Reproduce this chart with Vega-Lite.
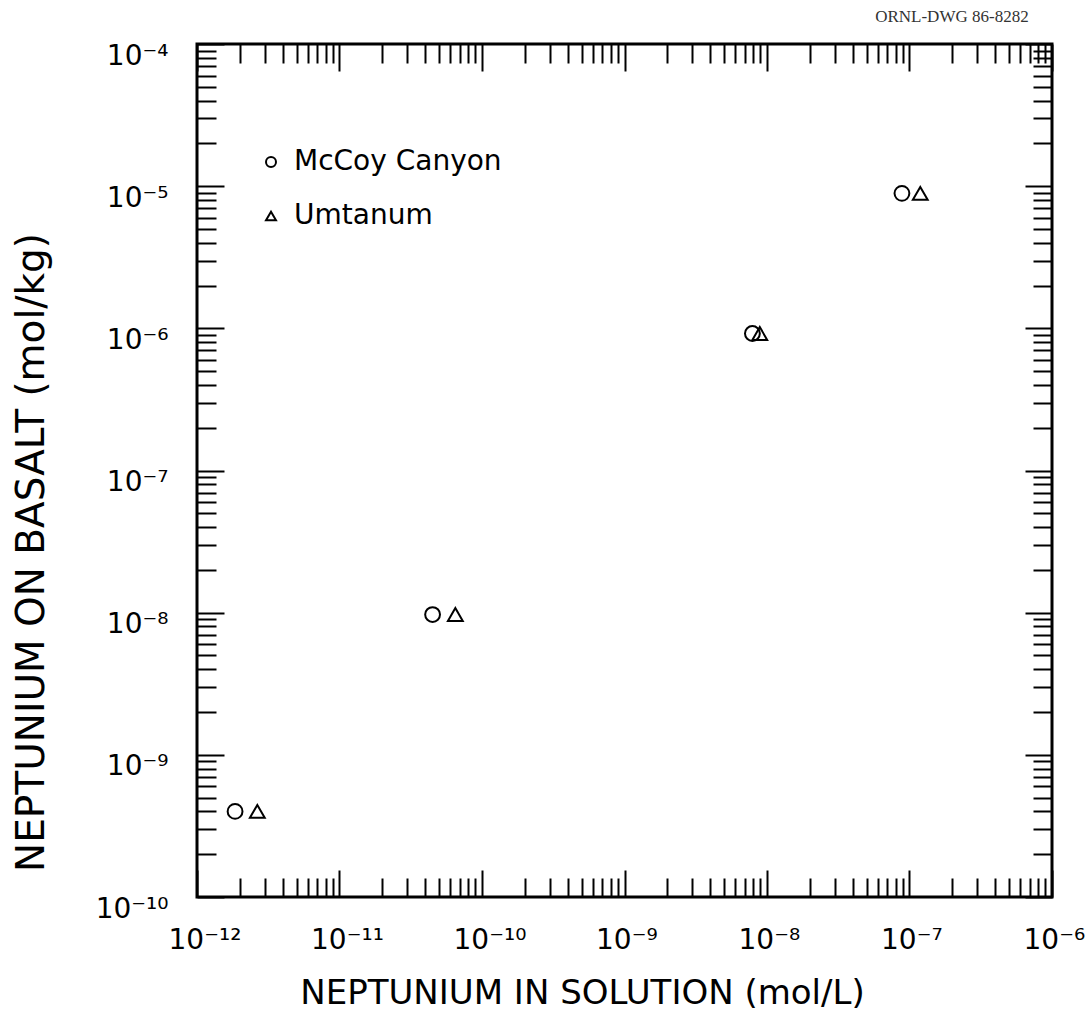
{
  "$schema": "https://vega.github.io/schema/vega-lite/v6.json",
  "width": 855,
  "height": 853,
  "autosize": {"type": "none"},
  "padding": {"left": 197, "top": 44, "right": 34, "bottom": 122},
  "background": "white",
  "title": {"text": "ORNL-DWG 86-8282", "anchor": "end", "font": "Liberation Serif", "fontSize": 17, "fontWeight": "normal", "color": "#333", "offset": 16, "dx": -56},
  "config": {
    "view": {"stroke": "black", "strokeWidth": 3},
    "axis": {
      "domain": false,
      "grid": false,
      "tickColor": "black",
      "tickWidth": 2,
      "labelColor": "black",
      "labelFont": "DejaVu Sans",
      "labelFontSize": 28,
      "titleFont": "DejaVu Sans",
      "titleFontWeight": "normal",
      "titleColor": "black",
      "labelOverlap": false,
      "labelFlush": false,
      "labelBound": false
    },
    "legend": {"labelFont": "DejaVu Sans", "labelFontSize": 28, "labelColor": "black", "labelLimit": 0}
  },
  "data": {"values": [
    {"sol": 1.85e-12, "basalt": 4.0e-10, "rock": "McCoy Canyon"},
    {"sol": 4.5e-11, "basalt": 9.7e-9, "rock": "McCoy Canyon"},
    {"sol": 7.9e-9, "basalt": 9.2e-7, "rock": "McCoy Canyon"},
    {"sol": 8.85e-8, "basalt": 8.9e-6, "rock": "McCoy Canyon"},
    {"sol": 2.65e-12, "basalt": 4.0e-10, "rock": "Umtanum"},
    {"sol": 6.5e-11, "basalt": 9.7e-9, "rock": "Umtanum"},
    {"sol": 8.9e-9, "basalt": 9.2e-7, "rock": "Umtanum"},
    {"sol": 1.19e-7, "basalt": 8.9e-6, "rock": "Umtanum"}
  ]},
  "layer": [
    {
      "mark": {"type": "point", "filled": false, "strokeWidth": 2, "color": "black", "opacity": 1, "size": 220},
      "encoding": {
        "x": {"field": "sol", "type": "quantitative",
          "scale": {"type": "log", "domain": [1e-12, 1e-6], "nice": false, "zero": false},
          "axis": {"orient": "bottom", "title": "NEPTUNIUM IN SOLUTION (mol/L)", "titleFontSize": 34, "titlePadding": 14, "titleX": 385,
            "values": [1e-12,2e-12,3e-12,4e-12,5e-12,6e-12,7e-12,8e-12,9e-12,1e-11,2e-11,3e-11,4e-11,5e-11,6e-11,7e-11,8e-11,9e-11,1e-10,2e-10,3e-10,4e-10,5e-10,6e-10,7e-10,8e-10,9e-10,1e-9,2e-9,3e-9,4e-9,5e-9,6e-9,7e-9,8e-9,9e-9,1e-8,2e-8,3e-8,4e-8,5e-8,6e-8,7e-8,8e-8,9e-8,1e-7,2e-7,3e-7,4e-7,5e-7,6e-7,7e-7,8e-7,9e-7,1e-6],
            "tickSize": {"condition": {"test": "abs(log(datum.value)/LN10 - round(log(datum.value)/LN10)) < 0.001", "value": -27}, "value": -19},
            "labelAlign": "left", "labelOffset": -29, "labelBaseline": "alphabetic", "labelPadding": 78,
            "labelExpr": "abs(log(datum.value)/LN10 - round(log(datum.value)/LN10)) < 0.001 ? '10⁻' + (-round(log(datum.value)/LN10) >= 10 ? substring('⁰¹²³⁴⁵⁶⁷⁸⁹', floor(-round(log(datum.value)/LN10)/10), floor(-round(log(datum.value)/LN10)/10)+1) : '') + substring('⁰¹²³⁴⁵⁶⁷⁸⁹', (-round(log(datum.value)/LN10))%10, (-round(log(datum.value)/LN10))%10+1) : ''"}},
        "y": {"field": "basalt", "type": "quantitative",
          "scale": {"type": "log", "domain": [1e-10, 1e-4], "nice": false, "zero": false},
          "axis": {"orient": "left", "title": "NEPTUNIUM ON BASALT (mol/kg)", "titleFontSize": 39, "titlePadding": 44, "titleY": 508,
            "values": [1e-10,2e-10,3e-10,4e-10,5e-10,6e-10,7e-10,8e-10,9e-10,1e-9,2e-9,3e-9,4e-9,5e-9,6e-9,7e-9,8e-9,9e-9,1e-8,2e-8,3e-8,4e-8,5e-8,6e-8,7e-8,8e-8,9e-8,1e-7,2e-7,3e-7,4e-7,5e-7,6e-7,7e-7,8e-7,9e-7,1e-6,2e-6,3e-6,4e-6,5e-6,6e-6,7e-6,8e-6,9e-6,1e-5,2e-5,3e-5,4e-5,5e-5,6e-5,7e-5,8e-5,9e-5,1e-4],
            "tickSize": {"condition": {"test": "abs(log(datum.value)/LN10 - round(log(datum.value)/LN10)) < 0.001", "value": -27}, "value": -19},
            "labelAlign": "right", "labelBaseline": "alphabetic", "labelOffset": 20, "labelPadding": 56,
            "labelExpr": "abs(log(datum.value)/LN10 - round(log(datum.value)/LN10)) < 0.001 ? '10⁻' + (-round(log(datum.value)/LN10) >= 10 ? substring('⁰¹²³⁴⁵⁶⁷⁸⁹', floor(-round(log(datum.value)/LN10)/10), floor(-round(log(datum.value)/LN10)/10)+1) : '') + substring('⁰¹²³⁴⁵⁶⁷⁸⁹', (-round(log(datum.value)/LN10))%10, (-round(log(datum.value)/LN10))%10+1) : ''"}},
        "shape": {"field": "rock", "type": "nominal",
          "scale": {"domain": ["McCoy Canyon", "Umtanum"], "range": ["circle", "triangle-up"]},
          "legend": {"title": null, "orient": "none", "legendX": 60, "legendY": 104, "padding": 0, "rowPadding": 26, "labelOffset": 9, "symbolSize": 100, "symbolStrokeWidth": 2, "symbolStrokeColor": "black", "symbolFillColor": "transparent"}}
      }
    },
    {
      "mark": {"type": "point", "opacity": 0},
      "encoding": {
        "x": {"field": "sol", "type": "quantitative",
          "axis": {"orient": "top", "title": null, "labels": false,
            "values": [1e-12,2e-12,3e-12,4e-12,5e-12,6e-12,7e-12,8e-12,9e-12,1e-11,2e-11,3e-11,4e-11,5e-11,6e-11,7e-11,8e-11,9e-11,1e-10,2e-10,3e-10,4e-10,5e-10,6e-10,7e-10,8e-10,9e-10,1e-9,2e-9,3e-9,4e-9,5e-9,6e-9,7e-9,8e-9,9e-9,1e-8,2e-8,3e-8,4e-8,5e-8,6e-8,7e-8,8e-8,9e-8,1e-7,2e-7,3e-7,4e-7,5e-7,6e-7,7e-7,8e-7,9e-7,1e-6],
            "tickSize": {"condition": {"test": "abs(log(datum.value)/LN10 - round(log(datum.value)/LN10)) < 0.001", "value": -27}, "value": -19}}},
        "y": {"field": "basalt", "type": "quantitative",
          "axis": {"orient": "right", "title": null, "labels": false,
            "values": [1e-10,2e-10,3e-10,4e-10,5e-10,6e-10,7e-10,8e-10,9e-10,1e-9,2e-9,3e-9,4e-9,5e-9,6e-9,7e-9,8e-9,9e-9,1e-8,2e-8,3e-8,4e-8,5e-8,6e-8,7e-8,8e-8,9e-8,1e-7,2e-7,3e-7,4e-7,5e-7,6e-7,7e-7,8e-7,9e-7,1e-6,2e-6,3e-6,4e-6,5e-6,6e-6,7e-6,8e-6,9e-6,1e-5,2e-5,3e-5,4e-5,5e-5,6e-5,7e-5,8e-5,9e-5,1e-4],
            "tickSize": {"condition": {"test": "abs(log(datum.value)/LN10 - round(log(datum.value)/LN10)) < 0.001", "value": -27}, "value": -19}}}
      }
    }
  ],
  "resolve": {"axis": {"x": "independent", "y": "independent"}}
}
